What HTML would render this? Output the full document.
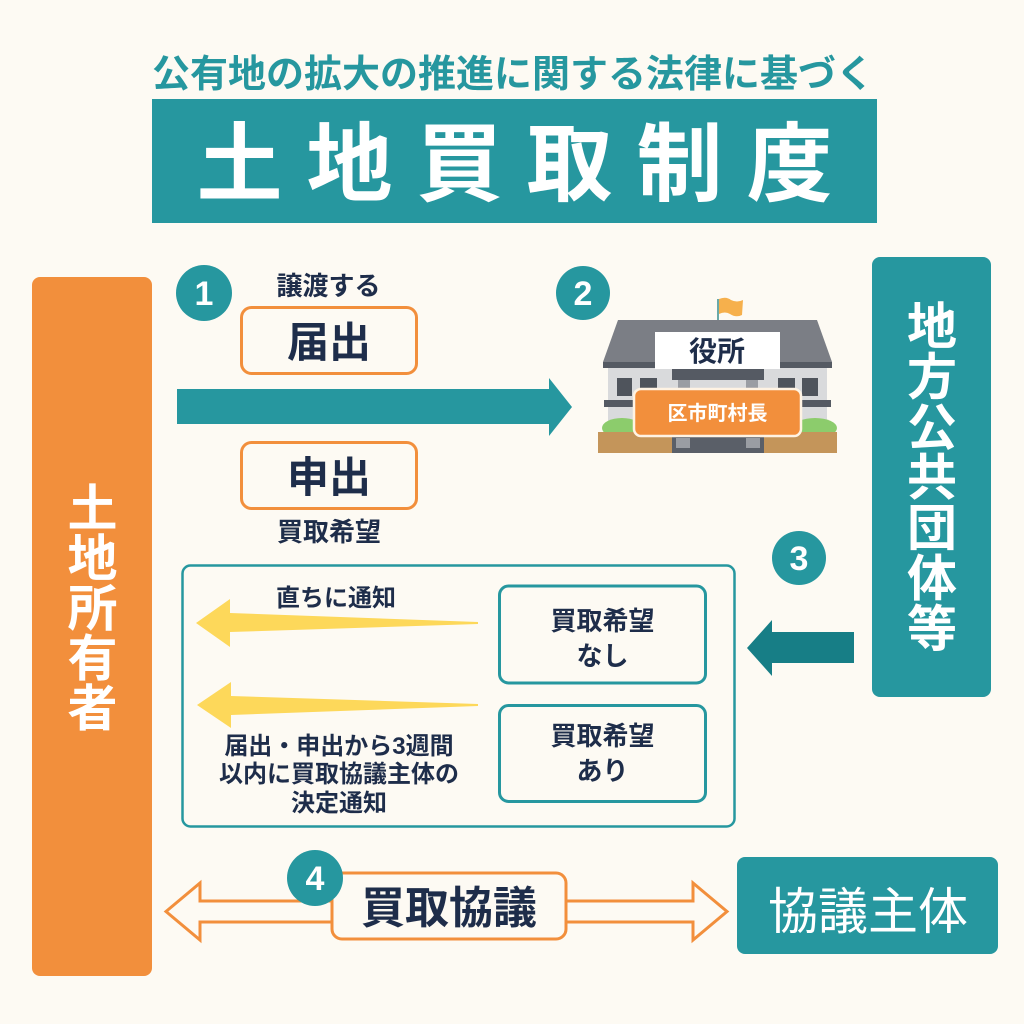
<!DOCTYPE html>
<html><head><meta charset="utf-8">
<style>
html,body{margin:0;padding:0;background:#fdfaf3;}
svg{display:block;}
text{font-family:"Liberation Sans","Noto Sans CJK JP",sans-serif;}
.b{font-weight:700;}
.n{fill:#1e2d4a;}
</style></head>
<body>
<svg width="1024" height="1024" viewBox="0 0 1024 1024" xmlns="http://www.w3.org/2000/svg">
<rect width="1024" height="1024" fill="#fdfaf3"/>

<!-- header -->
<text x="513" y="87" font-size="38" class="b" fill="#26979f" text-anchor="middle">公有地の拡大の推進に関する法律に基づく</text>
<rect x="152" y="99" width="725" height="124" fill="#26979f"/>
<g font-size="86" class="b" fill="#ffffff" text-anchor="middle">
<text x="239.5" y="194">土</text>
<text x="349.5" y="194">地</text>
<text x="459.5" y="194">買</text>
<text x="569.5" y="194">取</text>
<text x="679.5" y="194">制</text>
<text x="789.5" y="194">度</text>
</g>

<!-- left owner box -->
<rect x="32" y="277" width="120" height="699" rx="8" fill="#f28f3c"/>
<g font-size="50" class="b" fill="#ffffff" text-anchor="middle">
<text x="92.5" y="526">土</text>
<text x="92.5" y="576">地</text>
<text x="92.5" y="626">所</text>
<text x="92.5" y="676">有</text>
<text x="92.5" y="726">者</text>
</g>

<!-- right box -->
<rect x="872" y="257" width="119" height="440" rx="8" fill="#26979f"/>
<g font-size="50" class="b" fill="#ffffff" text-anchor="middle">
<text x="932" y="344">地</text>
<text x="932" y="394.4">方</text>
<text x="932" y="444.8">公</text>
<text x="932" y="495.2">共</text>
<text x="932" y="545.6">団</text>
<text x="932" y="596">体</text>
<text x="932" y="646.4">等</text>
</g>

<!-- step 1 -->
<circle cx="204" cy="293" r="28" fill="#26979f"/>
<text x="204" y="305" font-size="34" class="b" fill="#fff" text-anchor="middle" style="font-family:'Liberation Sans',sans-serif">1</text>
<text x="328.5" y="295" font-size="26" class="b n" text-anchor="middle">譲渡する</text>
<rect x="241.5" y="307.5" width="175" height="66" rx="10" fill="#fdfaf3" stroke="#f28f3c" stroke-width="3"/>
<text x="329" y="357" font-size="42" class="b n" text-anchor="middle">届出</text>
<polygon points="177,389 549,389 549,378 572,407 549,436 549,424 177,424" fill="#26979f"/>
<rect x="241.5" y="442.5" width="175" height="66" rx="10" fill="#fdfaf3" stroke="#f28f3c" stroke-width="3"/>
<text x="329" y="492" font-size="42" class="b n" text-anchor="middle">申出</text>
<text x="329" y="541" font-size="26" class="b n" text-anchor="middle">買取希望</text>

<!-- step 2 building -->
<circle cx="583" cy="293" r="27" fill="#26979f"/>
<text x="583" y="305" font-size="34" class="b" fill="#fff" text-anchor="middle" style="font-family:'Liberation Sans',sans-serif">2</text>
<line x1="718" y1="299" x2="718" y2="334" stroke="#6aa9a8" stroke-width="2"/>
<path d="M719,299 Q726,296 731,300 Q737,303 743,300 L742,315 Q736,318 730,314 Q725,311 719,314 Z" fill="#f6b04c"/>
<polygon points="618,320 817,320 832,362 603,362" fill="#7b7e85"/>
<rect x="603" y="362" width="229" height="6" fill="#555a63"/>
<rect x="608" y="368" width="219" height="66" fill="#d9dadc"/>
<rect x="617" y="378" width="15" height="18" fill="#4f545c"/>
<rect x="640" y="378" width="17" height="18" fill="#4f545c"/>
<rect x="778" y="378" width="17" height="18" fill="#4f545c"/>
<rect x="802" y="378" width="16" height="18" fill="#4f545c"/>
<rect x="604" y="400" width="227" height="7" fill="#555a63"/>
<rect x="672" y="369" width="92" height="11" fill="#555a63"/>
<rect x="678" y="380" width="12" height="10" fill="#9a9da3"/>
<rect x="746" y="380" width="12" height="10" fill="#9a9da3"/>
<rect x="655" y="332" width="125" height="37" fill="#ffffff"/>
<text x="717" y="361" font-size="28" class="b n" text-anchor="middle">役所</text>
<ellipse cx="622" cy="428" rx="20" ry="10" fill="#8ccc6c"/>
<ellipse cx="815" cy="428" rx="22" ry="10" fill="#8ccc6c"/>
<rect x="598" y="432" width="239" height="21" fill="#c4955a"/>
<rect x="672" y="432" width="92" height="21" fill="#5a5f68"/>
<rect x="676" y="438" width="14" height="10" fill="#9a9da3"/>
<rect x="746" y="438" width="14" height="10" fill="#9a9da3"/>
<rect x="634" y="389" width="167" height="47" rx="7" fill="#f28f3c" stroke="#fff3e3" stroke-width="2.5"/>
<text x="717.5" y="420" font-size="20" class="b" fill="#ffffff" text-anchor="middle">区市町村長</text>

<!-- step 3 -->
<circle cx="799" cy="558" r="27" fill="#26979f"/>
<text x="799" y="570" font-size="34" class="b" fill="#fff" text-anchor="middle" style="font-family:'Liberation Sans',sans-serif">3</text>
<polygon points="747,648 772,620 772,632 854,632 854,663 772,663 772,676" fill="#177e86"/>

<rect x="182.5" y="565.5" width="552" height="261" rx="8" fill="none" stroke="#26979f" stroke-width="2.5"/>
<text x="336" y="606" font-size="24" class="b n" text-anchor="middle">直ちに通知</text>
<polygon points="196,623 230,599 230,613 478,622 478,624 230,632 230,647" fill="#fdd85a"/>
<polygon points="197,705 231,682 231,696 478,704 478,706 231,715 231,728" fill="#fdd85a"/>
<g font-size="24" class="b n" text-anchor="middle">
<text x="339" y="754">届出・申出から3週間</text>
<text x="339" y="782">以内に買取協議主体の</text>
<text x="339" y="811">決定通知</text>
</g>
<rect x="499.5" y="586" width="206" height="97" rx="9" fill="#fdfaf3" stroke="#26979f" stroke-width="3"/>
<text x="602.5" y="630" font-size="26" class="b n" text-anchor="middle">買取希望</text>
<text x="602.5" y="665" font-size="26" class="b n" text-anchor="middle">なし</text>
<rect x="499.5" y="705.5" width="206" height="96" rx="9" fill="#fdfaf3" stroke="#26979f" stroke-width="3"/>
<text x="602.5" y="745" font-size="26" class="b n" text-anchor="middle">買取希望</text>
<text x="602.5" y="780" font-size="26" class="b n" text-anchor="middle">あり</text>

<!-- step 4 -->
<polygon points="166,911.5 200,883 200,901 693,901 693,883 727,911.5 693,940 693,922 200,922 200,940" fill="#fdfaf3" stroke="#f28f3c" stroke-width="3" stroke-linejoin="miter"/>
<rect x="332" y="873" width="234" height="66" rx="10" fill="#fdfaf3" stroke="#f28f3c" stroke-width="3"/>
<text x="449" y="923" font-size="44" class="b n" text-anchor="middle">買取協議</text>
<circle cx="315" cy="878" r="28" fill="#26979f"/>
<text x="315" y="890" font-size="34" class="b" fill="#fff" text-anchor="middle" style="font-family:'Liberation Sans',sans-serif">4</text>
<rect x="737" y="857" width="261" height="97" rx="8" fill="#26979f"/>
<text x="868" y="929" font-size="50" fill="#ffffff" text-anchor="middle">協議主体</text>
</svg>
</body></html>
